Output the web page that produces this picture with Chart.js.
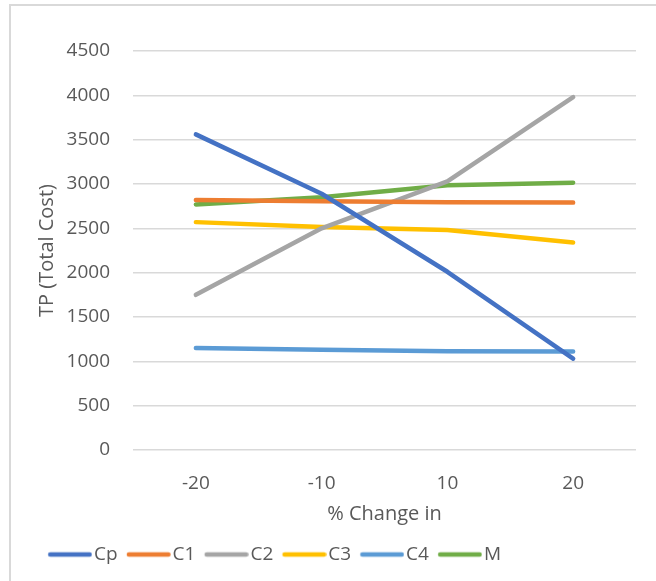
<!DOCTYPE html>
<html>
<head>
<meta charset="utf-8">
<script src="https://cdn.jsdelivr.net/npm/chart.js@4"></script>
<style>
  body{margin:0;background:#fff;width:656px;height:581px;overflow:hidden;position:relative;}
  #frame{position:absolute;left:9px;top:4px;width:700px;height:620px;border-left:2px solid #d9d9d9;border-top:2px solid #d9d9d9;z-index:2;pointer-events:none;}
  #chart{position:absolute;left:0;top:0;z-index:1;}
</style>
</head>
<body>
<div id="frame"></div>
<canvas id="chart" width="656" height="581"></canvas>
<script>
const categories = ['-20','-10','10','20'];
const cpValues = [3560,2890,2010,1030];
const c1Values = [2820,2805,2795,2790];
const c2Values = [1750,2500,3030,3980];
const c3Values = [2570,2515,2480,2340];
const c4Values = [1150,1130,1115,1110];
const mValues = [2770,2850,2985,3015];
const yTicks = {min:0,max:4500,step:500};

const textColor = '#595959';
const font = 'Open Sans';

// legend marker: a short thick line, offset so the label sits close to it like Excel
function legendLine(color){
  const c = document.createElement('canvas');
  c.width = 52; c.height = 8;
  const g = c.getContext('2d');
  g.strokeStyle = color; g.lineWidth = 4.5; g.lineCap = 'round';
  g.beginPath(); g.moveTo(10,4); g.lineTo(49.5,4); g.stroke();
  return c;
}

function series(label,data,color){
  return {label:label,data:data,borderColor:color,backgroundColor:color,borderWidth:4.5,
    borderCapStyle:'round',borderJoinStyle:'round',pointRadius:0,pointHoverRadius:0,
    pointStyle:legendLine(color),tension:0,fill:false};
}

// shift the legend so it starts where the Excel one does
const legendShift = {
  id:'legendShift',
  beforeDraw(chart){ chart.legend.left = 39; }
};

const ctx = document.getElementById('chart').getContext('2d');
const chart = new Chart(ctx,{
  type:'line',
  data:{labels:categories,datasets:[
    series('Cp',cpValues,'#4472C4'),
    series('C1',c1Values,'#ED7D31'),
    series('C2',c2Values,'#A5A5A5'),
    series('C3',c3Values,'#FFC000'),
    series('C4',c4Values,'#5B9BD5'),
    series('M',mValues,'#70AD47')
  ]},
  options:{
    responsive:false,animation:false,
    layout:{padding:{left:0,top:51,right:20,bottom:7}},
    plugins:{
      tooltip:{enabled:false},
      legend:{position:'bottom',align:'start',
        labels:{usePointStyle:true,pointStyleWidth:36.5,padding:9,color:textColor,font:{family:font,size:19}}}
    },
    scales:{
      x:{offset:true,
        grid:{display:false,drawTicks:false},
        border:{display:false},
        ticks:{padding:22,color:textColor,font:{family:font,size:19},maxRotation:0},
        title:{display:true,text:'% Change in',color:textColor,font:{family:font,size:20},padding:{top:0,bottom:10}},
        afterFit(s){ s.height = 86; }
      },
      y:{min:yTicks.min,max:yTicks.max,
        grid:{color:'#d9d9d9',lineWidth:1.5,drawTicks:false},
        border:{display:false},
        ticks:{stepSize:yTicks.step,padding:23,color:textColor,font:{family:font,size:19},
          callback:v=>String(v)},
        title:{display:true,text:'TP (Total Cost)',color:textColor,font:{family:font,size:20},padding:{top:35,bottom:0}},
        afterFit(s){ s.width = 133; }
      }
    }
  },
  plugins:[legendShift]
});
</script>
</body>
</html>
